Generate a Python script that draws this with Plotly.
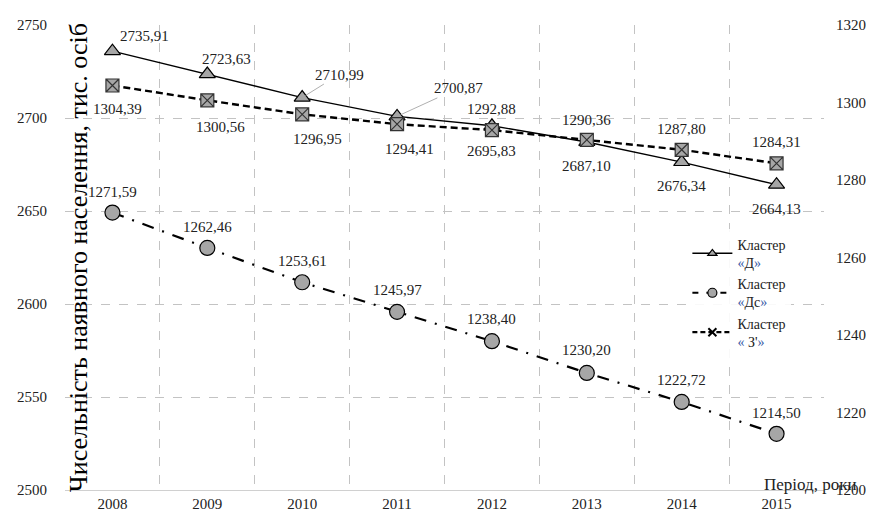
import plotly.graph_objects as go

years = [2008, 2009, 2010, 2011, 2012, 2013, 2014, 2015]
cluster_d = [2735.91, 2723.63, 2710.99, 2700.87, 2695.83, 2687.10, 2676.34, 2664.13]
cluster_ds = [1271.59, 1262.46, 1253.61, 1245.97, 1238.40, 1230.20, 1222.72, 1214.50]
cluster_z = [1304.39, 1300.56, 1296.95, 1294.41, 1292.88, 1290.36, 1287.80, 1284.31]
names = ["Кластер<br><span style='color:#3b5ea8'>«</span>Д<span style='color:#3b5ea8'>»</span>",
         "Кластер<br><span style='color:#3b5ea8'>«</span>Дс<span style='color:#3b5ea8'>»</span>",
         "Кластер<br><span style='color:#3b5ea8'>«</span> З'<span style='color:#3b5ea8'>»</span>"]

FONT = "Liberation Serif"
MK = "#a6a6a6"

# label offsets (pixels) : (dx, dy, leader)
off_d = [(32, -15, False), (19, -15, False), (37, -23, True), (61, -28, True),
         (0, 25, False), (0, 24, False), (0, 24, False), (0, 24, False)]
off_z = [(5, 24, False), (13, 27, False), (15, 25, False), (12, 25, False),
         (0, -21, False), (0, -20, False), (0, -21, False), (0, -21, False)]
off_ds = [(0, -21, False), (0, -21, False), (0, -21, False), (0, -22, False),
          (0, -22, False), (0, -23, False), (0, -22, False), (0, -21, False)]

styles = [
    dict(line=dict(color="black", width=1.3),
         marker=dict(symbol="triangle-up", size=14, color=MK, line=dict(color="black", width=1.2))),
    dict(line=dict(color="black", width=2.2, dash="12px,9px,2px,9px"),
         marker=dict(symbol="circle", size=15, color=MK, line=dict(color="black", width=1.2))),
    dict(line=dict(color="black", width=2.4, dash="7px,4px"),
         marker=dict(symbol="square-x", size=13, color=MK, line=dict(color="#333333", width=1.2))),
]
leg_styles = [
    dict(line=dict(color="black", width=1.5),
         marker=dict(symbol="triangle-up", size=8, color=MK, line=dict(color="black", width=1.2))),
    dict(line=dict(color="black", width=2.2, dash="6px,8px"),
         marker=dict(symbol="circle", size=9, color=MK, line=dict(color="black", width=1.2))),
    dict(line=dict(color="black", width=2.2, dash="5px,3px"),
         marker=dict(symbol="x-thin", size=8, color="black", line=dict(color="black", width=2))),
]

fig = go.Figure()
for vals, ax, st in [(cluster_d, "y", styles[0]), (cluster_ds, "y2", styles[1]), (cluster_z, "y2", styles[2])]:
    fig.add_trace(go.Scatter(x=years, y=vals, mode="lines+markers", showlegend=False, yaxis=ax, **st))
# legend entries (no points of their own)
for nm, ax, st in zip(names, ["y", "y2", "y2"], leg_styles):
    fig.add_trace(go.Scatter(x=[None], y=[None], name=nm, mode="lines+markers", yaxis=ax, **st))

def fmt(v):
    return f"{v:.2f}".replace(".", ",")

LBL = dict(family=FONT, size=15, color="#222")
annos = []
for vals, offs, yref in [(cluster_d, off_d, "y"), (cluster_z, off_z, "y2"), (cluster_ds, off_ds, "y2")]:
    for xv, yv, (dx, dy, lead) in zip(years, vals, offs):
        if lead:
            annos.append(dict(x=xv, y=yv, xref="x", yref=yref, text=fmt(yv), showarrow=True,
                              arrowhead=0, arrowcolor="#b0b0b0", arrowwidth=1, ax=dx, ay=dy,
                              standoff=4, font=LBL))
        else:
            annos.append(dict(x=xv, y=yv, xref="x", yref=yref, text=fmt(yv), showarrow=False,
                              xshift=dx, yshift=-dy, font=LBL))

annos.append(dict(x=0.018, y=0.5, xref="paper", yref="paper", xanchor="center", yanchor="middle",
                  text="Чисельність наявного населення, тис. осіб",
                  textangle=-90, showarrow=False, font=dict(family=FONT, size=26, color="black")))
annos.append(dict(x=0.982, y=0.0127, xref="paper", yref="paper", xanchor="center", yanchor="middle",
                  text="Період, роки", showarrow=False, font=dict(family=FONT, size=17, color="#222")))

bounds = [y - 0.5 for y in years] + [years[-1] + 0.5]

fig.update_layout(
    width=874, height=513,
    margin=dict(l=53, r=58, t=9, b=31),
    paper_bgcolor="white", plot_bgcolor="white",
    font=dict(family=FONT, size=15, color="#222"),
    showlegend=True,
    legend=dict(x=0.82, y=0.562, xanchor="left", yanchor="top", bgcolor="rgba(255,255,255,0.9)",
                font=dict(family=FONT, size=14, color="#222"), tracegroupgap=0, itemwidth=40),
    xaxis=dict(range=[bounds[0], bounds[-1]], tickvals=years, ticktext=[str(y) for y in years],
               showgrid=False, ticks="", showline=True, linecolor="#d0d0d0",
               minor=dict(tickvals=bounds, showgrid=True, gridcolor="#c3c3c3", griddash="dash",
                          gridwidth=1, ticks=""),
               tickfont=dict(family=FONT, size=15, color="#222"), zeroline=False),
    yaxis=dict(range=[2500, 2750], dtick=50, showgrid=True, gridcolor="#c3c3c3", griddash="dash",
               ticks="outside", ticklen=14, tickcolor="rgba(0,0,0,0)", zeroline=False,
               tickfont=dict(family=FONT, size=15, color="#222")),
    yaxis2=dict(range=[1200, 1320], dtick=20, overlaying="y", side="right", showgrid=False,
                ticks="outside", ticklen=8, tickcolor="rgba(0,0,0,0)", zeroline=False,
                tickfont=dict(family=FONT, size=15, color="#222")),
    annotations=annos,
)

fig.write_html("out.html")
